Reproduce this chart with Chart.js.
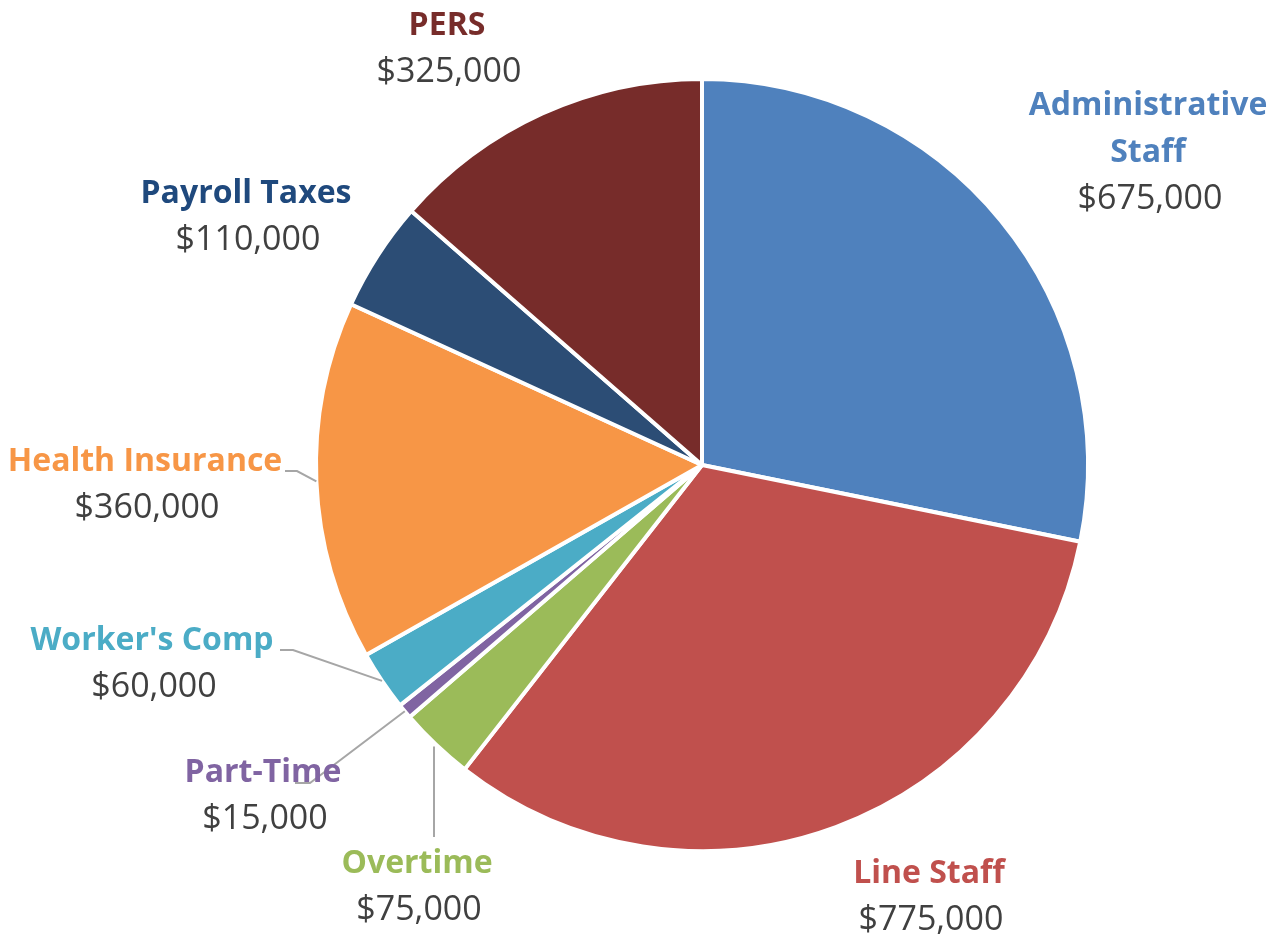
<!DOCTYPE html>
<html>
<head>
<meta charset="utf-8">
<script src="https://cdn.jsdelivr.net/npm/chart.js@4/dist/chart.umd.min.js"></script>
<style>
html,body{margin:0;padding:0;background:#fff;}
#wrap{width:1272px;height:938px;}
</style>
</head>
<body>
<div id="wrap"><canvas id="c" width="1272" height="938"></canvas></div>
<script>
const categories = ["Administrative Staff","Line Staff","Overtime","Part-Time","Worker's Comp","Health Insurance","Payroll Taxes","PERS"];
const values = [675000,775000,75000,15000,60000,360000,110000,325000];
const sliceColors = ["#4F81BD","#C0504D","#9BBB59","#8064A2","#4BACC6","#F79646","#2C4D75","#772C2A"];
const nameColors = ["#4F81BD","#C0504D","#9BBB59","#8064A2","#4BACC6","#F79646","#1F497D","#772C2A"];

// label layout: name lines, center x, baseline of first line, leader path start points
const labelLayout = [
  {lines:["Administrative","Staff"], x:1148, y:115},
  {lines:["Line Staff"], x:929, y:883},
  {lines:["Overtime"], x:417, y:873, leader:[[434,837]], vertical:true},
  {lines:["Part-Time"], x:263, y:782, leader:[[295,783],[310,783]]},
  {lines:["Worker's Comp"], x:152, y:650, leader:[[280,650],[293,650]]},
  {lines:["Health Insurance"], x:145, y:471, leader:[[285,471],[297,471]]},
  {lines:["Payroll Taxes"], x:246, y:203},
  {lines:["PERS"], x:447, y:35}
];
const LINE_H = 47;
const FONT = '"Open Sans", "Noto Sans", sans-serif';

function fmt(v){ return '$' + v.toLocaleString('en-US'); }

const labelPlugin = {
  id:'outLabels',
  afterDatasetsDraw(chart){
    const ctx = chart.ctx;
    const meta = chart.getDatasetMeta(0);
    ctx.save();
    meta.data.forEach((arc, i) => {
      const L = labelLayout[i];
      const p = arc.getProps(['x','y','startAngle','endAngle','outerRadius'], true);
      const mid = (p.startAngle + p.endAngle) / 2;
      const ex = p.x + Math.cos(mid) * p.outerRadius;
      const ey = p.y + Math.sin(mid) * p.outerRadius;
      if (L.leader) {
        ctx.beginPath();
        ctx.strokeStyle = '#A6A6A6';
        ctx.lineWidth = 2;
        ctx.moveTo(L.leader[0][0], L.leader[0][1]);
        for (let k = 1; k < L.leader.length; k++) ctx.lineTo(L.leader[k][0], L.leader[k][1]);
        if (L.vertical) ctx.lineTo(L.leader[0][0], ey + 2);
        else ctx.lineTo(ex, ey);
        ctx.stroke();
      }
      ctx.textAlign = 'center';
      ctx.textBaseline = 'alphabetic';
      ctx.font = 'bold 32px ' + FONT;
      ctx.fillStyle = nameColors[i];
      let y = L.y;
      L.lines.forEach((ln, k) => { ctx.fillText(ln, L.x, y); y += LINE_H; });
      ctx.font = '34px ' + FONT;
      ctx.fillStyle = '#404040';
      ctx.fillText(fmt(values[i]), L.x + 2, y);
    });
    ctx.restore();
  }
};

new Chart(document.getElementById('c'), {
  type:'pie',
  data:{
    labels:categories,
    datasets:[{
      data:values,
      backgroundColor:sliceColors,
      borderColor:'#FFFFFF',
      borderWidth:4
    }]
  },
  options:{
    responsive:false,
    animation:false,
    layout:{padding:{left:314,right:182,top:77,bottom:85}},
    plugins:{legend:{display:false},tooltip:{enabled:false}}
  },
  plugins:[labelPlugin]
});
</script>
</body>
</html>
